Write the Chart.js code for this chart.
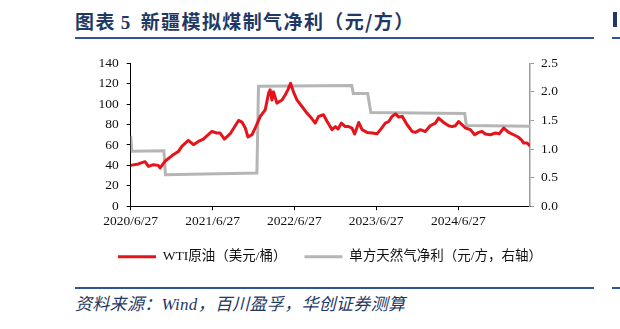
<!DOCTYPE html>
<html>
<head>
<meta charset="utf-8">
<script src="https://cdn.jsdelivr.net/npm/chart.js@4.4.1/dist/chart.umd.min.js"></script>
<style>
  html, body { margin: 0; padding: 0; background: #fff; }
  body { width: 620px; height: 329px; position: relative; overflow: hidden; }
  #title { position: absolute; left: 75px; top: 8px; font-family: "Noto Sans CJK SC", sans-serif; font-weight: 700; font-size: 19px; letter-spacing: 1.4px; color: #1f3864; white-space: nowrap; line-height: 26px; }
  #title .num { font-family: "Liberation Serif", serif; font-weight: 700; margin: 0 9px 0 5px; }
  .rule { position: absolute; height: 2px; background: #2f5597; }
  #source { position: absolute; left: 75px; top: 294px; font-family: "Liberation Serif", "Noto Sans CJK SC", serif; font-style: italic; font-size: 17px; letter-spacing: 0.3px; color: #1f3864; white-space: nowrap; line-height: 22px; }
  #frag { position: absolute; left: 613px; top: 12px; width: 4px; height: 15px; background: #1f3864; }
  #wrap { position: absolute; left: 0; top: 0; width: 620px; height: 329px; }
</style>
</head>
<body>
<div id="title">图表<span class="num">5</span>新疆模拟煤制气净利（元/方）</div>
<div class="rule" style="left:75px; top:37px; width:519px;"></div>
<div class="rule" style="left:612px; top:37px; width:8px;"></div>
<div id="frag"></div>
<div class="rule" style="left:75px; top:287px; width:519px;"></div>
<div class="rule" style="left:612px; top:287px; width:8px;"></div>
<div id="source">资料来源：Wind，百川盈孚，华创证券测算</div>
<div id="wrap"><canvas id="c" width="620" height="329"></canvas></div>
<script>
// ---- data ----
const startDate = '2020-06-27';
const xTickLabels = ['2020/6/27', '2021/6/27', '2022/6/27', '2023/6/27', '2024/6/27'];
const seriesNames = ['WTI原油（美元/桶）', '单方天然气净利（元/方，右轴）'];

const wtiDates = [
  '2020-06-27','2020-07-31','2020-08-30','2020-09-14','2020-10-06','2020-10-28','2020-11-05','2020-11-27',
  '2021-01-03','2021-01-26','2021-02-10','2021-03-11','2021-04-03','2021-04-25','2021-05-17','2021-06-24',
  '2021-07-16','2021-07-31','2021-08-19','2021-09-14','2021-10-21','2021-11-05','2021-11-20','2021-12-02',
  '2021-12-20','2022-01-06','2022-01-26','2022-02-17','2022-03-04','2022-03-11','2022-03-19','2022-03-26',
  '2022-04-10','2022-05-03','2022-05-17','2022-05-29','2022-06-10','2022-06-23','2022-07-09','2022-07-31',
  '2022-08-22','2022-09-11','2022-09-28','2022-10-13','2022-11-04','2022-11-20','2022-12-12','2022-12-27',
  '2023-01-08','2023-01-23','2023-02-09','2023-02-24','2023-03-11','2023-03-23','2023-04-10','2023-04-25',
  '2023-05-17','2023-06-09','2023-07-01','2023-07-16','2023-08-07','2023-08-22','2023-09-06','2023-09-21',
  '2023-10-06','2023-10-21','2023-11-12','2023-12-04','2023-12-19','2024-01-10','2024-02-01','2024-02-23',
  '2024-03-17','2024-03-31','2024-04-23','2024-05-15','2024-05-30','2024-06-14','2024-06-29','2024-07-14',
  '2024-07-29','2024-08-20','2024-09-08','2024-09-26','2024-10-11','2024-10-26','2024-11-17','2024-12-10',
  '2024-12-27','2025-01-16','2025-02-07','2025-03-01','2025-03-21','2025-04-05','2025-04-15','2025-04-30',
  '2025-05-13'
];
const wtiValues = [
  40.0, 41.4, 43.6, 39.0, 40.7, 40.0, 37.5, 44.0,
  50.5, 53.7, 58.6, 64.5, 60.3, 63.5, 65.8, 73.2,
  71.7, 71.7, 65.8, 71.0, 84.0, 82.4, 76.6, 67.8,
  70.0, 78.0, 88.0, 94.4, 110.7, 114.0, 104.0, 112.0,
  101.0, 104.0, 109.0, 114.0, 120.5, 112.0, 104.0, 97.7,
  91.2, 86.3, 81.4, 88.0, 89.6, 83.0, 75.0, 78.0,
  75.6, 81.4, 78.0, 78.0, 76.6, 70.7, 82.0, 75.0,
  72.3, 71.7, 71.0, 75.0, 81.4, 83.0, 88.0, 90.5,
  87.3, 88.0, 79.8, 73.2, 72.3, 75.0, 73.2, 78.8,
  81.4, 86.3, 82.0, 78.8, 78.0, 78.8, 83.0, 79.8,
  76.6, 75.0, 70.0, 72.3, 73.2, 70.7, 70.0, 71.7,
  71.0, 76.6, 72.3, 70.0, 67.8, 65.0, 61.9, 61.9,
  59.0
];

const gasDates = [
  '2020-06-27','2020-07-02','2020-11-22','2020-11-29','2022-01-11','2022-01-18',
  '2023-03-10','2023-03-17','2023-05-20','2023-06-03','2024-07-26','2024-08-02','2025-05-13'
];
const gasValues = [
  1.23, 0.96, 0.97, 0.55, 0.58, 2.10,
  2.11, 1.97, 1.97, 1.64, 1.62, 1.41, 1.40
];

// ---- helpers ----
function dayOffset(iso) {
  const p = iso.split(/[-\/]/).map(Number);
  const s = startDate.split('-').map(Number);
  return (Date.UTC(p[0], p[1] - 1, p[2]) - Date.UTC(s[0], s[1] - 1, s[2])) / 864e5;
}
const xTickValues = xTickLabels.map(dayOffset);
const wtiPoints = wtiDates.map((d, i) => ({ x: dayOffset(d), y: wtiValues[i] }));
const gasPoints = gasDates.map((d, i) => ({ x: dayOffset(d), y: gasValues[i] }));
const xMax = dayOffset(wtiDates[wtiDates.length - 1]);

const RED = '#e5141b';
const GRAY = '#b5b5b5';
const tickFont = { family: '"Liberation Serif", "Times New Roman", serif', size: 13.5 };

// geometry of the plot box in the reference
const PLOT = { left: 130.7, right: 530, top: 63.3, bottom: 206.7 };
const PAD = { left: 40, right: 0, top: 63.3, bottom: 55.5 };
const LEGEND_TOP = 232.5;

new Chart(document.getElementById('c'), {
  type: 'line',
  data: {
    datasets: [
      { label: seriesNames[0], data: wtiPoints, yAxisID: 'y', borderColor: RED, backgroundColor: RED,
        borderWidth: 3, pointRadius: 0, tension: 0, borderJoinStyle: 'round' },
      { label: seriesNames[1], data: gasPoints, yAxisID: 'y1', borderColor: GRAY, backgroundColor: GRAY,
        borderWidth: 3, pointRadius: 0, tension: 0 }
    ]
  },
  options: {
    responsive: false,
    animation: false,
    events: [],
    layout: { padding: PAD },
    plugins: {
      tooltip: { enabled: false },
      legend: {
        position: 'bottom',
        labels: {
          boxWidth: 38,
          boxHeight: 3,
          padding: 18,
          color: '#111',
          font: { family: '"Liberation Serif", "Noto Sans CJK SC", serif', size: 13.5 },
          generateLabels: (chart) => chart.data.datasets.map((ds, i) => ({
            text: ds.label, fillStyle: ds.borderColor, strokeStyle: ds.borderColor,
            lineWidth: 0, hidden: false, datasetIndex: i, fontColor: '#111'
          }))
        }
      }
    },
    scales: {
      x: {
        type: 'linear',
        min: 0,
        max: xMax,
        afterBuildTicks: (axis) => { axis.ticks = xTickValues.map(v => ({ value: v })); },
        afterFit: (scale) => { scale.height = LEGEND_TOP - PLOT.bottom; },
        grid: { drawOnChartArea: false, drawTicks: true, tickLength: 4, color: '#000' },
        border: { color: '#000', width: 1 },
        ticks: {
          autoSkip: false, maxRotation: 0, padding: 3, color: '#111', font: tickFont,
          callback: (v) => { const i = xTickValues.indexOf(v); return i >= 0 ? xTickLabels[i] : ''; }
        }
      },
      y: {
        position: 'left',
        min: 0, max: 140,
        afterFit: (scale) => { scale.width = PLOT.left - PAD.left; },
        grid: { drawOnChartArea: false, drawTicks: true, tickLength: 4, color: '#000' },
        border: { color: '#000', width: 1 },
        ticks: { stepSize: 20, padding: 8, color: '#111', font: tickFont }
      },
      y1: {
        position: 'right',
        min: 0, max: 2.5,
        afterFit: (scale) => { scale.width = 620 - PAD.right - PLOT.right; },
        grid: { drawOnChartArea: false, drawTicks: true, tickLength: 4, color: '#999' },
        border: { color: '#999', width: 1.5 },
        ticks: { stepSize: 0.5, padding: 7, color: '#111', font: tickFont,
          callback: (v) => Number(v).toFixed(1) }
      }
    }
  }
});
</script>
</body>
</html>
